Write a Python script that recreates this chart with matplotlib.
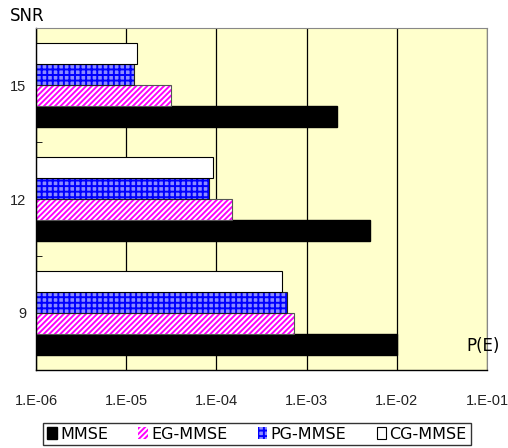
import matplotlib.pyplot as plt
import numpy as np

# data
snr = ["9", "12", "15"]
mmse = [1.0e-2, 5.1e-3, 2.2e-3]
eg_mmse = [7.2e-4, 1.5e-4, 3.1e-5]
pg_mmse = [6.1e-4, 8.2e-5, 1.23e-5]
cg_mmse = [5.4e-4, 9.1e-5, 1.32e-5]
xticks = [1e-6, 1e-5, 1e-4, 1e-3, 1e-2, 1e-1]
xlabels = ["1.E-06", "1.E-05", "1.E-04", "1.E-03", "1.E-02", "1.E-01"]

plt.rcParams['font.family'] = ['Liberation Sans', 'DejaVu Sans']
plt.rcParams['hatch.linewidth'] = 1.4

fig = plt.figure(figsize=(5.08, 4.48), dpi=100)
ax = fig.add_axes([36/508, 1-370/448, 451/508, 342/448])
ax.set_facecolor('#FFFFCC')

y = np.arange(len(snr))
h = 0.184
left = 1e-6

# draw bars (bottom to top: MMSE, EG, PG, CG)
ax.barh(y - 1.5*h, np.array(mmse) - left, h, left=left, color='black',
        edgecolor='black', label='MMSE')
ax.barh(y - 0.5*h, np.array(eg_mmse) - left, h, left=left, color='white',
        edgecolor='#FF00FF', hatch='//////', linewidth=0, label='EG-MMSE')
ax.barh(y - 0.5*h, np.array(eg_mmse) - left, h, left=left, fill=False,
        edgecolor='#555555', linewidth=0.8)
ax.barh(y + 0.5*h, np.array(pg_mmse) - left, h, left=left, color='#8C8CFF',
        edgecolor='#0000FF', hatch='+++', linewidth=0, label='PG-MMSE')
ax.barh(y + 0.5*h, np.array(pg_mmse) - left, h, left=left, fill=False,
        edgecolor='#222222', linewidth=0.8)
ax.barh(y + 1.5*h, np.array(cg_mmse) - left, h, left=left, color='white',
        edgecolor='black', linewidth=0.8, label='CG-MMSE')

ax.set_xscale('log')
ax.set_xlim(1e-6, 1e-1)
ax.set_ylim(-0.5, 2.5)
ax.set_xticks(xticks)
ax.set_xticklabels(xlabels, fontsize=10.5, color='#222222')
ax.xaxis.set_minor_locator(plt.NullLocator())
ax.tick_params(axis='x', length=0, pad=17)
ax.grid(axis='x', color='black', linewidth=0.9)
ax.set_axisbelow(True)

ax.set_yticks(y)
ax.set_yticklabels(snr, fontsize=10.5, color='#222222')
ax.set_yticks([0.5, 1.5], minor=True)
ax.tick_params(axis='y', which='major', length=0, pad=7)
ax.tick_params(axis='y', which='minor', length=4, direction='in')

for side in ['top', 'right']:
    ax.spines[side].set_color('#888888')
ax.spines['left'].set_linewidth(1.0)
ax.spines['bottom'].set_linewidth(1.0)

fig.text(10/508, 1-16/448, "SNR", fontsize=12, va='center', ha='left',
         family='DejaVu Sans')
fig.text(466/508, 1-346/448, "P(E)", fontsize=12, va='center', ha='left',
         family='DejaVu Sans')

handles, labels = ax.get_legend_handles_labels()
leg = fig.legend(handles, labels, loc='center', ncol=4,
                 bbox_to_anchor=(257/508, 1-434/448), frameon=True,
                 fancybox=False, edgecolor='black',
                 prop={'family': 'DejaVu Sans', 'size': 11.5},
                 handlelength=0.6, handleheight=0.8, handletextpad=0.2,
                 columnspacing=1.9, borderpad=0.25, borderaxespad=0)
leg.get_frame().set_linewidth(1.0)

fig.savefig('out.png', dpi=100)
